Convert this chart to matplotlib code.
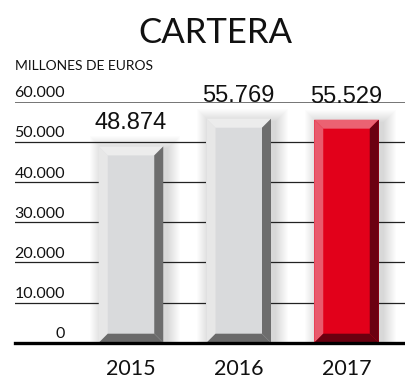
import matplotlib
matplotlib.use("Agg")
import matplotlib.pyplot as plt
from matplotlib.patches import Polygon, Rectangle
import matplotlib.transforms as mtransforms

years = ["2015", "2016", "2017"]
values = [48874, 55769, 55529]
value_labels = ["48.874", "55.769", "55.529"]
y_ticks = [0, 10000, 20000, 30000, 40000, 50000, 60000]
y_tick_labels = ["0", "10.000", "20.000", "30.000", "40.000", "50.000", "60.000"]

W, H = 405, 378
DPI = 100
fig = plt.figure(figsize=(W / DPI, H / DPI), dpi=DPI)
fig.patch.set_facecolor("white")

ax_left, ax_right = 15, 405
ax_top, ax_bottom = 101.7, 342.7
ax = fig.add_axes([ax_left / W, (H - ax_bottom) / H, (ax_right - ax_left) / W, (ax_bottom - ax_top) / H])
ax.set_axis_off()

spacing_px = 107.75
first_center_px = 131 - ax_left
xmin = -first_center_px / spacing_px
xmax = xmin + (ax_right - ax_left) / spacing_px
ax.set_xlim(xmin, xmax)
ax.set_ylim(0, 60000)

ux = (xmax - xmin) / (ax_right - ax_left)     # data units per pixel x
uy = 60000 / (ax_bottom - ax_top)             # data units per pixel y

font_f = "Lato"
font_v = "Liberation Sans"

# gridlines
for t in y_ticks[1:]:
    col = "#6a6a6a" if t == 60000 else "#222222"
    lw = 1.3 if t == 60000 else 0.9
    ax.axhline(t, color=col, lw=lw, zorder=2)
ax.axhline(0, color="black", lw=2.4, zorder=6, clip_on=False)

# tick labels
lab_x = (65 - ax_left) / (ax_right - ax_left)
trans = mtransforms.blended_transform_factory(ax.transAxes, ax.transData)
trans = mtransforms.offset_copy(trans, fig=fig, x=0, y=4.5, units="dots")
for t, lab in zip(y_ticks, y_tick_labels):
    ax.text(lab_x, t, lab, transform=trans, ha="right", va="baseline",
            fontsize=11.5, family=font_f, color="#111111", clip_on=False)

bar_w = 64.5 * ux
d = 9
dx, dy = d * ux, d * uy
styles = [
    dict(face="#d9dadc", left="#e7e7e7", top="#ececec", right="#6d6d6d", bottom="#6a6a6a"),
    dict(face="#d9dadc", left="#e7e7e7", top="#ececec", right="#6d6d6d", bottom="#6a6a6a"),
    dict(face="#e2001a", left="#e95a6c", top="#eb6272", right="#6b0011", bottom="#6a0010"),
]

for i, (v, st) in enumerate(zip(values, styles)):
    x0, x1 = i - bar_w / 2, i + bar_w / 2
    y0, y1 = 0, v
    # soft shadow
    for k in range(1, 14):
        ax.add_patch(Rectangle((x0 - k * ux + 4 * ux, y0), (x1 - x0) + 2 * k * ux, (y1 - y0) + k * uy - 3 * uy,
                               facecolor="black", edgecolor="none", alpha=0.013, zorder=1))
    ax.add_patch(Rectangle((x0, y0), x1 - x0, y1 - y0, facecolor=st["face"], edgecolor="none", zorder=3))
    ax.add_patch(Polygon([(x0, y0), (x0, y1), (x0 + dx, y1 - dy), (x0 + dx, y0 + dy)],
                         closed=True, facecolor=st["left"], edgecolor="none", zorder=4))
    ax.add_patch(Polygon([(x0, y1), (x1, y1), (x1 - dx, y1 - dy), (x0 + dx, y1 - dy)],
                         closed=True, facecolor=st["top"], edgecolor="none", zorder=4))
    ax.add_patch(Polygon([(x1, y1), (x1, y0), (x1 - dx, y0 + dy), (x1 - dx, y1 - dy)],
                         closed=True, facecolor=st["right"], edgecolor="none", zorder=4))
    ax.add_patch(Polygon([(x0, y0), (x1, y0), (x1 - dx, y0 + dy), (x0 + dx, y0 + dy)],
                         closed=True, facecolor=st["bottom"], edgecolor="none", zorder=4))
    # value label
    ax.annotate(value_labels[i], xy=(i, v), xytext=(0, 17 * 0.72), textcoords="offset points",
                ha="center", va="baseline", fontsize=17, family=font_v, color="#111111",
                annotation_clip=False)
    # year label
    ax.annotate(years[i], xy=(i, 0), xycoords=("data", "data"), xytext=(0, -32 * 0.72),
                textcoords="offset points", ha="center", va="baseline", fontsize=15.5,
                family=font_f, color="#111111", annotation_clip=False)

fig.text(215 / W, 1 - 43 / H, "CARTERA", ha="center", va="baseline", fontsize=25,
         family=font_f, color="#111111")
fig.text(15 / W, 1 - 70 / H, "MILLONES DE EUROS", ha="left", va="baseline", fontsize=10,
         family=font_f, color="#111111")

fig.savefig("out.png", dpi=DPI, facecolor="white")
